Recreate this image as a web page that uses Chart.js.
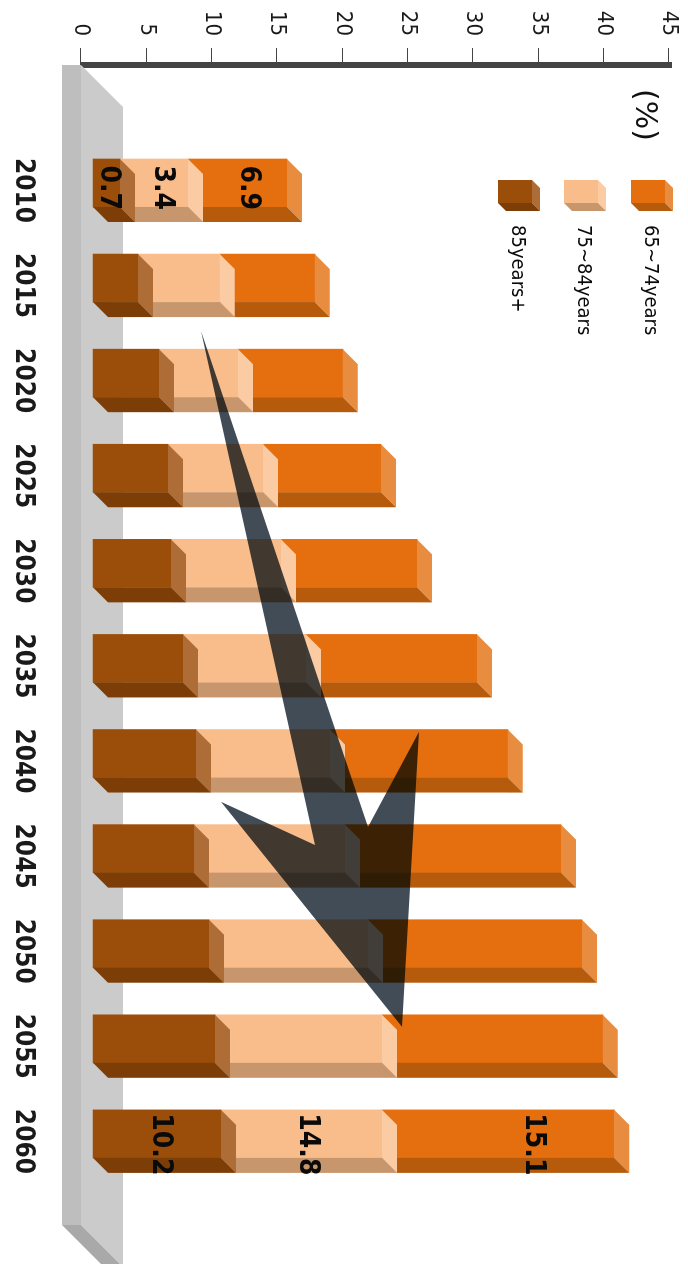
<!DOCTYPE html>
<html><head><meta charset="utf-8">
<style>
html,body{margin:0;padding:0;background:#fff;overflow:hidden;width:688px;height:1264px}
#wrap{position:absolute;left:688px;top:0;width:1264px;height:688px;transform-origin:0 0;transform:rotate(90deg)}
</style>
<script src="https://cdn.jsdelivr.net/npm/chart.js@4"></script>
</head><body>
<div id="wrap"><canvas id="c" width="1264" height="688"></canvas></div>
<script>
const years=[2010,2015,2020,2025,2030,2035,2040,2045,2050,2055,2060];
const tickValues=[0,5,10,15,20,25,30,35,40,45];
// bar lengths as drawn in the picture
const age85=[2.07,3.44,5.05,5.74,5.97,6.89,7.88,7.73,8.88,9.33,9.79];
const age75=[5.20,6.27,6.04,7.27,8.42,9.41,10.25,11.55,12.17,12.78,12.32];
const age65=[7.57,7.27,8.03,9.03,10.41,13.08,13.62,16.53,16.37,16.91,17.79];
const seriesNames=['85years+','75~84years','65~74years'];
// printed figures: [text, year position, value-axis position]
const noteTexts=['0.7','3.4','6.9','10.2','14.8','15.1'];
const noteYears=[2010.25,2010.25,2010.25,2060.55,2060.55,2060.55];
const noteValues=[2.1,6.2,12.8,6.1,17.3,34.6];
const unitText='(%)';
// arrow outline in axis units
const arrowYears=[2017.78,2043.86,2038.86,2054.37,2042.54,2044.81];
const arrowValues=[9.18,21.96,25.86,24.56,10.71,17.90];

const palette=[
 {front:'#9A4E0A',side:'#AE6D36',under:'#7C3E06'},
 {front:'#F9BC8B',side:'#FBCBA3',under:'#C8966C'},
 {front:'#E56E0E',side:'#E88C40',under:'#B65B0C'}];
const DEPTH=15;
const COND='"DejaVu Sans Condensed","DejaVu Sans",sans-serif';
function poly(ctx,pts,fill){ctx.beginPath();pts.forEach((p,i)=>i?ctx.lineTo(p[0],p[1]):ctx.moveTo(p[0],p[1]));ctx.closePath();ctx.fillStyle=fill;ctx.fill();}
function box3d(ctx,l,r,t,b,d,c){
 poly(ctx,[[l,t],[r,t],[r+d,t-d],[l+d,t-d]],c.side);
 poly(ctx,[[r,t],[r,b],[r+d,b-d],[r+d,t-d]],c.under);
}
const look3d={id:'look3d',
 beforeDatasetsDraw(chart){
  const ctx=chart.ctx;
  // floor band
  poly(ctx,[[65,607],[65,626],[1225,626],[1225,607]],'#BEBEBE');
  poly(ctx,[[65,607],[107,565],[1264,565],[1264,568],[1225,607]],'#CBCBCB');
  poly(ctx,[[1225,626],[1225,607],[1264,568],[1264,587]],'#A9A9A9');
 },
 afterDatasetDraw(chart,args){
  const ctx=chart.ctx,c=palette[args.index];
  args.meta.data.forEach(bar=>{
   const w=bar.width/2;
   box3d(ctx,bar.x-w,bar.x+w,bar.y,bar.base,DEPTH,c);
  });
 },
 afterDatasetsDraw(chart){
  const ctx=chart.ctx,x=chart.scales.x,y=chart.scales.y;
  // arrow
  ctx.save();
  ctx.globalCompositeOperation='multiply';
  poly(ctx,arrowYears.map((v,i)=>[x.getPixelForValue(v),y.getPixelForValue(arrowValues[i])]),'#424C57');
  ctx.restore();
  // printed figures
  ctx.save();
  ctx.font='bold 28px '+COND;ctx.fillStyle='#0a0a0a';ctx.textAlign='center';ctx.textBaseline='middle';
  noteTexts.forEach((t,i)=>ctx.fillText(t,x.getPixelForValue(noteYears[i]),y.getPixelForValue(noteValues[i])));
  // unit
  ctx.font='30px "DejaVu Sans",sans-serif';ctx.fillStyle='#111';
  ctx.fillText(unitText,115,44);
  // legend
  ctx.textAlign='left';ctx.font='20px '+COND;
  const order=[2,1,0],rows=[57,124,190];
  order.forEach((k,i)=>{
   const b=rows[i],t=b-34;
   poly(ctx,[[180,t],[203,t],[203,b],[180,b]],palette[k].front);
   box3d(ctx,180,203,t,b,8,palette[k]);
   ctx.fillStyle='#0a0a0a';
   ctx.fillText(seriesNames[k],225,b-19);
  });
  ctx.restore();
 }};

new Chart(document.getElementById('c'),{
 type:'bar',
 data:{datasets:[age85,age75,age65].map((vals,i)=>({
   label:seriesNames[i],
   data:vals.map((v,j)=>({x:years[j],y:v})),
   backgroundColor:palette[i].front,borderWidth:0,barThickness:48,yAxisID:'yBar'}))},
 options:{
  responsive:false,animation:false,
  layout:{padding:{top:19,right:39,left:0,bottom:0}},
  plugins:{legend:{display:false},tooltip:{enabled:false}},
  scales:{
   x:{type:'linear',stacked:true,offset:false,min:2003.796,max:2064.79,
    afterBuildTicks(a){a.ticks=years.map(v=>({value:v}));},
    afterFit(a){a.height=81;a.paddingLeft=0;a.paddingRight=0;},
    grid:{display:false,drawTicks:false},border:{display:false},
    ticks:{callback:v=>String(v),autoSkip:false,maxRotation:0,minRotation:0,labelOffset:7.5,padding:43,
     font:{family:COND,size:26,weight:'bold'},color:'#1a1a1a'}},
   y:{position:'left',min:0,max:45,
    afterBuildTicks(a){a.ticks=tickValues.map(v=>({value:v}));},
    afterFit(a){a.width=65;a.paddingTop=0;a.paddingBottom=0;},
    grid:{drawOnChartArea:false,drawTicks:true,tickLength:17,color:'#444',lineWidth:1},
    border:{display:true,color:'#444',width:6},
    ticks:{padding:12,font:{family:COND,size:22},color:'#1a1a1a'}},
   yBar:{display:false,stacked:true,min:-0.918,max:44.082}
  }
 },
 plugins:[look3d]
});
</script>
</body></html>
